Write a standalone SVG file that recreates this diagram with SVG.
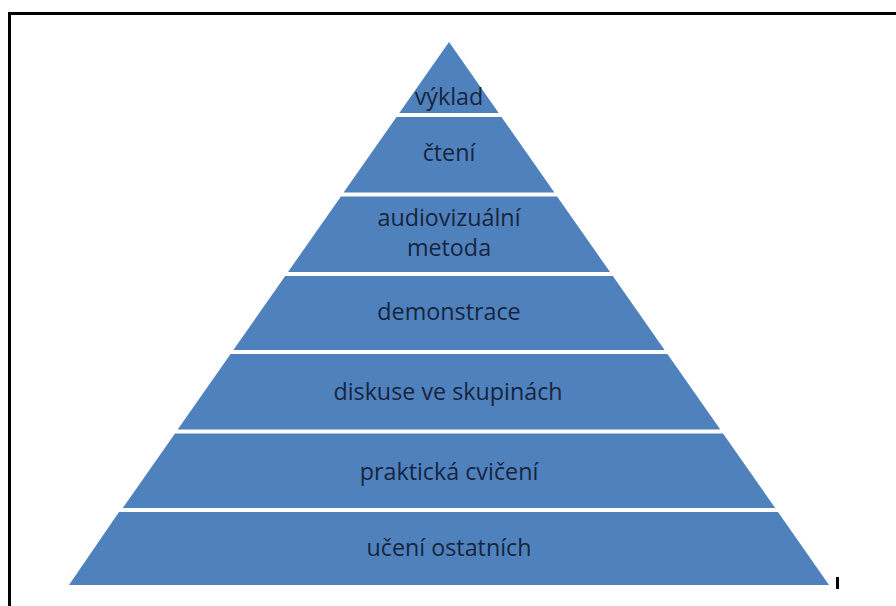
<svg xmlns="http://www.w3.org/2000/svg" width="896" height="606" viewBox="0 0 896 606">
<style>
.layer{fill:#4F81BD}
.lbl{font-family:"Open Sans","Liberation Sans",sans-serif;font-size:23.3px;fill:#17253D;text-anchor:middle}
</style>
<rect x="0" y="0" width="896" height="606" fill="#FFFFFF"/>
<g id="frame">
<line x1="9.5" y1="13.5" x2="896" y2="13.5" stroke="#000" stroke-width="3"/>
<line x1="9.5" y1="12" x2="9.5" y2="606" stroke="#000" stroke-width="3"/>
</g>
<g id="layer1">
<polygon class="layer" points="449,42 498.7,113 399.3,113"/>
<text class="lbl" x="449" y="105">výklad</text>
</g>
<g id="layer2">
<polygon class="layer" points="396.5,117 501.5,117 554.4,192.5 343.6,192.5"/>
<text class="lbl" x="449" y="161">čtení</text>
</g>
<g id="layer3">
<polygon class="layer" points="340.9,196.5 557.1,196.5 610,272 288,272"/>
<text class="lbl" x="449" y="226">audiovizuální</text>
<text class="lbl" x="449" y="256">metoda</text>
</g>
<g id="layer4">
<polygon class="layer" points="285.2,276 612.8,276 664.6,350 233.4,350"/>
<text class="lbl" x="449" y="320">demonstrace</text>
</g>
<g id="layer5">
<polygon class="layer" points="230.6,354 667.4,354 720.3,429.5 177.7,429.5"/>
<text class="lbl" x="448" y="400">diskuse ve skupinách</text>
</g>
<g id="layer6">
<polygon class="layer" points="175,433.5 723,433.5 775.2,508 122.8,508"/>
<text class="lbl" x="449" y="480">praktická cvičení</text>
</g>
<g id="layer7">
<polygon class="layer" points="119,512 778,512 829,585 69,585"/>
<text class="lbl" x="449" y="556">učení ostatních</text>
</g>
<rect x="836" y="577" width="3" height="12" fill="#000"/>
</svg>
